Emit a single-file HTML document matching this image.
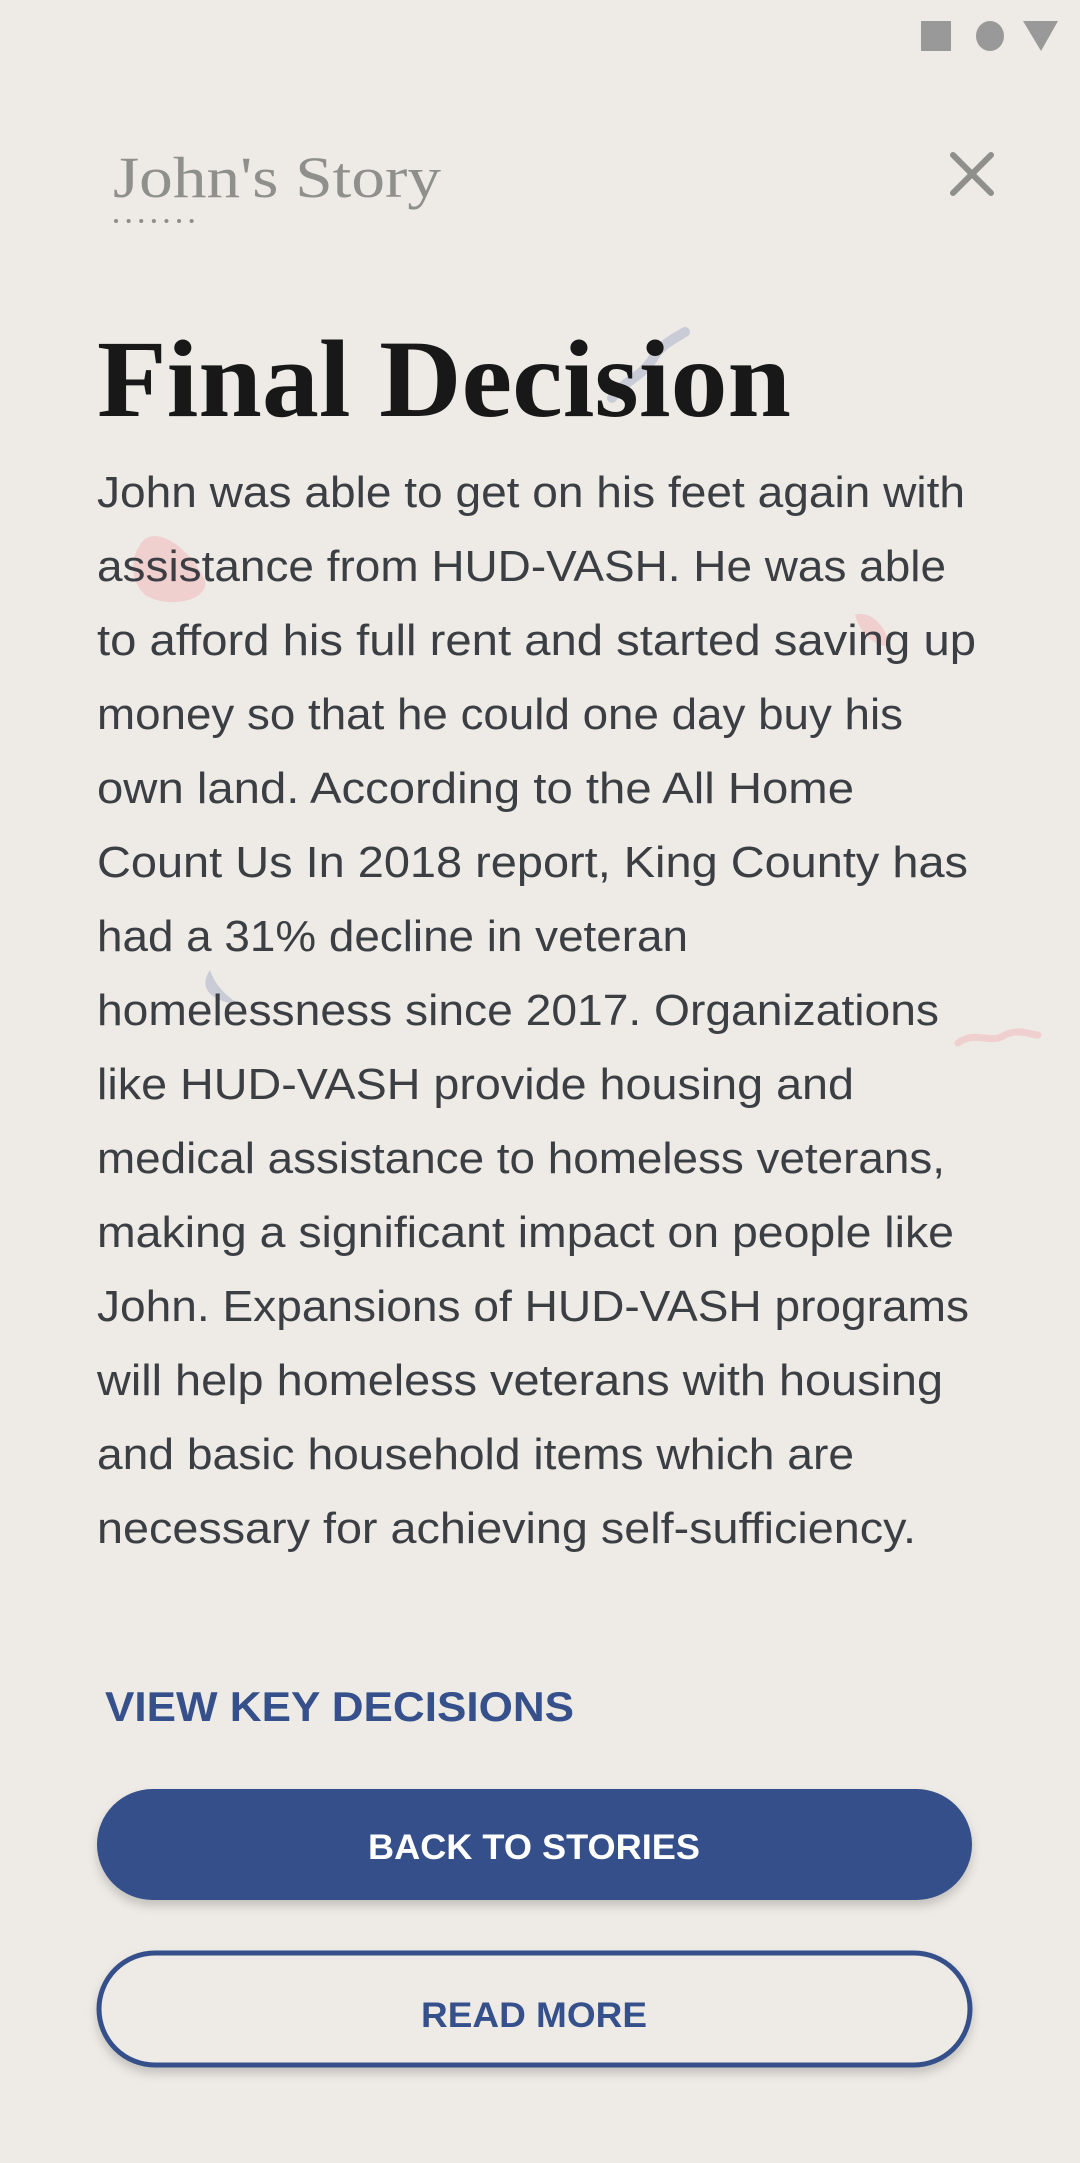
<!DOCTYPE html>
<html><head><meta charset="utf-8"><style>
html,body{margin:0;padding:0;background:#eeebe6;}
svg{display:block}
</style></head><body>
<svg width="1080" height="2163" viewBox="0 0 1080 2163" xmlns="http://www.w3.org/2000/svg" font-family="Liberation Sans, sans-serif">
<rect width="1080" height="2163" fill="#eeebe6"/>
<g fill="#999">
<rect x="921" y="21" width="30" height="30"/>
<ellipse cx="990" cy="36" rx="14" ry="15"/>
<polygon points="1023,21 1058,21 1041,51"/>
</g>
<g>
<path d="M612,398 C625,380 640,378 652,360 C660,345 675,338 685,332" stroke="#c9ccd6" stroke-width="10" fill="none" stroke-linecap="round"/>
<path d="M140,545 C150,525 185,540 205,580 C210,600 170,610 145,595 C130,580 130,560 140,545Z" fill="#f0cfcf"/>
<path d="M855,615 C870,610 885,625 890,645 C880,650 860,635 855,615Z" fill="#f0cfcf"/>
<path d="M958,1043 C975,1030 990,1045 1005,1035 C1020,1028 1030,1035 1038,1035" stroke="#f0cfcf" stroke-width="7" fill="none" stroke-linecap="round"/>
<path d="M210,970 C200,985 205,1000 240,1005 C225,995 215,985 210,970Z" fill="#c9ccd6"/>
</g>
<text x="113" y="197" font-family="Liberation Serif, serif" font-size="58" fill="#8f8f8c" textLength="328" lengthAdjust="spacingAndGlyphs">John's Story</text>
<line x1="116" y1="221" x2="204" y2="221" stroke="#8f8f8c" stroke-width="4" stroke-dasharray="0.1,12.5" stroke-linecap="round"/>
<g stroke="#8f8f8c" stroke-width="6" stroke-linecap="round">
<line x1="953" y1="155" x2="991" y2="193"/><line x1="991" y1="155" x2="953" y2="193"/>
</g>
<text x="97" y="416" font-family="Liberation Serif, serif" font-weight="bold" font-size="110" fill="#181818" textLength="694" lengthAdjust="spacingAndGlyphs">Final Decision</text>
<g font-size="44" fill="#3b3f44">
<text x="97" y="507" textLength="868" lengthAdjust="spacingAndGlyphs">John was able to get on his feet again with</text>
<text x="97" y="581" textLength="849" lengthAdjust="spacingAndGlyphs">assistance from HUD-VASH. He was able</text>
<text x="97" y="655" textLength="879" lengthAdjust="spacingAndGlyphs">to afford his full rent and started saving up</text>
<text x="97" y="729" textLength="806" lengthAdjust="spacingAndGlyphs">money so that he could one day buy his</text>
<text x="97" y="803" textLength="757" lengthAdjust="spacingAndGlyphs">own land. According to the All Home</text>
<text x="97" y="877" textLength="871" lengthAdjust="spacingAndGlyphs">Count Us In 2018 report, King County has</text>
<text x="97" y="951" textLength="591" lengthAdjust="spacingAndGlyphs">had a 31% decline in veteran</text>
<text x="97" y="1025" textLength="842" lengthAdjust="spacingAndGlyphs">homelessness since 2017. Organizations</text>
<text x="97" y="1099" textLength="757" lengthAdjust="spacingAndGlyphs">like HUD-VASH provide housing and</text>
<text x="97" y="1173" textLength="848" lengthAdjust="spacingAndGlyphs">medical assistance to homeless veterans,</text>
<text x="97" y="1247" textLength="857" lengthAdjust="spacingAndGlyphs">making a significant impact on people like</text>
<text x="97" y="1321" textLength="872" lengthAdjust="spacingAndGlyphs">John. Expansions of HUD-VASH programs</text>
<text x="97" y="1395" textLength="846" lengthAdjust="spacingAndGlyphs">will help homeless veterans with housing</text>
<text x="97" y="1469" textLength="757" lengthAdjust="spacingAndGlyphs">and basic household items which are</text>
<text x="97" y="1543" textLength="819" lengthAdjust="spacingAndGlyphs">necessary for achieving self-sufficiency.</text>
</g>
<text x="105" y="1721" font-size="42" font-weight="bold" fill="#35508b" textLength="469" lengthAdjust="spacingAndGlyphs">VIEW KEY DECISIONS</text>
<defs><filter id="sh" x="-10%" y="-30%" width="120%" height="170%"><feDropShadow dx="0" dy="6" stdDeviation="5" flood-color="#000" flood-opacity="0.18"/></filter></defs>
<g>
<rect x="97" y="1789" width="875" height="111" rx="55.5" fill="#36508b" filter="url(#sh)"/>
<text x="368" y="1859" font-size="35" font-weight="bold" fill="#fff" textLength="332" lengthAdjust="spacingAndGlyphs">BACK TO STORIES</text>
</g>
<g>
<rect x="99" y="1953" width="871" height="112" rx="56" fill="#eeebe6" stroke="#36508b" stroke-width="5" filter="url(#sh)"/>
<text x="421" y="2027" font-size="35" font-weight="bold" fill="#36508b" textLength="226" lengthAdjust="spacingAndGlyphs">READ MORE</text>
</g>
</svg>
</body></html>
